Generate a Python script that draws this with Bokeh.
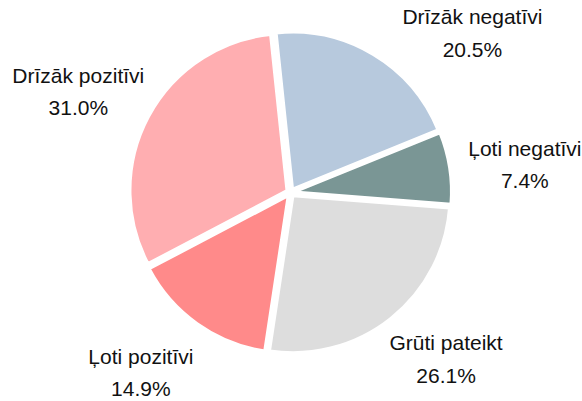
import numpy as np
from bokeh.plotting import figure
from bokeh.models import ColumnDataSource, Range1d
from bokeh.core.properties import value
from bokeh.embed import file_html
from bokeh.resources import INLINE

# ---- data ----
categories = ["Drīzāk negatīvi", "Ļoti negatīvi", "Grūti pateikt", "Ļoti pozitīvi", "Drīzāk pozitīvi"]
shares = [20.5, 7.4, 26.1, 14.9, 31.0]
colors = ["#B7C9DD", "#7A9695", "#DDDDDD", "#FF8A8A", "#FFAEB1"]

# ---- layout ----
W, H = 582, 401
cx, cy = 290, 209          # pie centre (data units = pixels, y up)
R = 157
explode = 4
start_clock = -6.0         # degrees clockwise from 12 o'clock
label_tweak = [17.8, 2.0, -4.6, 4.3, -2.7]   # deg
label_dist = [242, 236, 228, 234, 235]

vals = np.array(shares, dtype=float)
frac = vals / vals.sum()
ends = start_clock + np.cumsum(frac) * 360.0
starts = ends - frac * 360.0
mids = (starts + ends) / 2.0

def clock_to_math(a):
    return np.deg2rad(90.0 - a)

xs = cx + explode * np.cos(clock_to_math(mids))
ys = cy + explode * np.sin(clock_to_math(mids))

src = ColumnDataSource(dict(
    x=xs, y=ys,
    start=clock_to_math(starts), end=clock_to_math(ends),
    color=colors, cat=categories,
))

lab_ang = clock_to_math(mids + np.array(label_tweak))
lx = cx + np.array(label_dist) * np.cos(lab_ang)
ly = cy + np.array(label_dist) * np.sin(lab_ang)
labels = [f"{c}\n{v:.1f}%" for c, v in zip(categories, shares)]
lsrc = ColumnDataSource(dict(x=lx, y=ly, text=labels))

p = figure(width=W, height=H, output_backend="svg", toolbar_location=None,
           x_range=Range1d(0, W), y_range=Range1d(0, H),
           min_border=0, outline_line_color=None)
p.axis.visible = False
p.grid.visible = False
p.background_fill_color = "white"

p.wedge(x="x", y="y", radius=R, start_angle="start", end_angle="end",
        direction="clock", fill_color="color", line_color="white",
        line_width=3, source=src)

p.text(x="x", y="y", text="text", source=lsrc,
       text_font=value("Liberation Sans"), text_font_size="21px",
       text_align="center", text_baseline="middle", text_color="#111111",
       text_line_height=1.42)

open("out.html", "w").write(file_html(p, INLINE))
